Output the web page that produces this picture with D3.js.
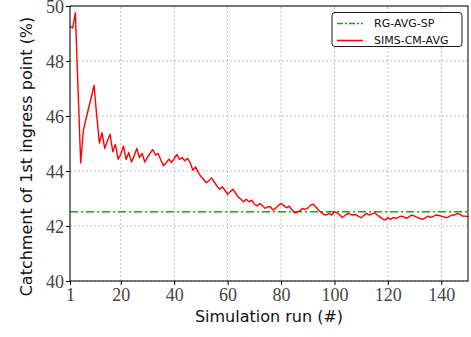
<!DOCTYPE html>
<html>
<head>
<meta charset="utf-8">
<script src="https://cdn.jsdelivr.net/npm/d3@7"></script>
<style>
  body { margin: 0; background: #fff; }
  svg { display: block; }
</style>
</head>
<body>
<svg id="chart"></svg>
<script>
// Series values
const simsCmAvg = [
  49.26, 49.2, 49.76, 47.0, 44.29, 45.48, 45.9, 46.3, 46.7, 47.12,
  46.0, 45.02, 45.39, 44.82, 45.1, 45.34, 44.70, 44.97, 44.43, 44.6,
  44.91, 44.42, 44.67, 44.33, 44.55, 44.82, 44.49, 44.64, 44.33, 44.5,
  44.65, 44.78, 44.58, 44.64, 44.4, 44.19, 44.3, 44.43, 44.31, 44.45,
  44.60, 44.42, 44.49, 44.37, 44.46, 44.3, 44.03, 44.15, 43.95, 43.8,
  43.7, 43.57, 43.65, 43.75, 43.6, 43.45, 43.34, 43.43, 43.3, 43.15,
  43.25, 43.34, 43.2, 43.05, 42.97, 42.88, 42.97, 42.88, 42.94, 42.8,
  42.73, 42.82, 42.75, 42.64, 42.7, 42.7, 42.58, 42.65, 42.75, 42.82,
  42.75, 42.66, 42.72, 42.6, 42.48, 42.5, 42.55, 42.64, 42.6, 42.65,
  42.75, 42.80, 42.7, 42.58, 42.5, 42.42, 42.40, 42.46, 42.40, 42.52,
  42.48, 42.4, 42.31, 42.38, 42.46, 42.42, 42.40, 42.42, 42.35, 42.30,
  42.38, 42.46, 42.40, 42.44, 42.48, 42.4, 42.33, 42.26, 42.22, 42.31,
  42.24, 42.31, 42.28, 42.32, 42.36, 42.33, 42.28, 42.34, 42.40, 42.36,
  42.31, 42.28, 42.24, 42.3, 42.36, 42.31, 42.35, 42.40, 42.38, 42.36,
  42.33, 42.30, 42.35, 42.40, 42.40, 42.46, 42.42, 42.36, 42.36, 42.34
];
const rgAvgSp = 42.52;
const runs = simsCmAvg.map((d, i) => i + 1);
const xTicks = [1, 20, 40, 60, 80, 100, 120, 140];
const yTicks = [40, 42, 44, 46, 48, 50];
const seriesNames = ["RG-AVG-SP", "SIMS-CM-AVG"];

const W = 471, H = 337;
const margin = { top: 6, right: 3, bottom: 56, left: 70 };

const svg = d3.select("#chart").attr("width", W).attr("height", H);

const x = d3.scaleLinear().domain([1, 150]).range([margin.left, W - margin.right]);
const y = d3.scaleLinear().domain([40, 50]).range([H - margin.bottom, margin.top]);

// grid
const grid = svg.append("g").attr("stroke", "#b5b5b5").attr("stroke-width", 0.9)
  .attr("stroke-dasharray", "2,2");
grid.selectAll(".gx").data(xTicks).join("line")
  .attr("x1", d => x(d)).attr("x2", d => x(d))
  .attr("y1", y(40)).attr("y2", y(50));
grid.selectAll(".gy").data(yTicks).join("line")
  .attr("x1", x(1)).attr("x2", x(150))
  .attr("y1", d => y(d)).attr("y2", d => y(d));

// reference line
const green = "#2a9a2a";
svg.append("line")
  .attr("x1", x(1)).attr("x2", x(150))
  .attr("y1", y(rgAvgSp)).attr("y2", y(rgAvgSp))
  .attr("stroke", green).attr("stroke-width", 1.5)
  .attr("stroke-dasharray", "8,3,2,3");

// main series
const line = d3.line().x((d, i) => x(runs[i])).y(d => y(d));
svg.append("path").datum(simsCmAvg)
  .attr("fill", "none").attr("stroke", "#ff0000").attr("stroke-width", 1.4)
  .attr("stroke-linejoin", "round")
  .attr("d", line);

// frame
svg.append("rect")
  .attr("x", x(1)).attr("y", y(50))
  .attr("width", x(150) - x(1)).attr("height", y(40) - y(50))
  .attr("fill", "none").attr("stroke", "#000").attr("stroke-width", 1);

// axes
const xAxis = svg.append("g")
  .attr("transform", `translate(0,${y(40)})`)
  .call(d3.axisBottom(x).tickValues(xTicks).tickSize(4).tickSizeOuter(0));
const yAxis = svg.append("g")
  .attr("transform", `translate(${x(1)},0)`)
  .call(d3.axisLeft(y).tickValues(yTicks).tickSize(4).tickSizeOuter(0));
[xAxis, yAxis].forEach(a => {
  a.select(".domain").remove();
  a.selectAll(".tick line").attr("stroke", "#000");
  a.selectAll(".tick text")
    .attr("font-family", "'Liberation Serif', 'DejaVu Serif', serif")
    .attr("font-size", 18).attr("fill", "#444");
});
xAxis.selectAll(".tick text").attr("dy", "0.75em").attr("y", 6);
yAxis.selectAll(".tick text").attr("x", -6).attr("dy", "0.34em");

// axis labels
svg.append("text")
  .attr("x", (x(1) + x(150)) / 2).attr("y", 322)
  .attr("text-anchor", "middle")
  .attr("font-family", "'DejaVu Sans', sans-serif").attr("font-size", 16)
  .attr("fill", "#111")
  .text("Simulation run (#)");
svg.append("text")
  .attr("transform", `translate(32,${(y(40) + y(50)) / 2 + 13}) rotate(-90)`)
  .attr("text-anchor", "middle")
  .attr("font-family", "'DejaVu Sans', sans-serif").attr("font-size", 16)
  .attr("fill", "#111")
  .text("Catchment of 1st ingress point (%)");

// legend
const lg = svg.append("g").attr("transform", "translate(332,12.5)");
lg.append("rect").attr("width", 130).attr("height", 34).attr("rx", 3)
  .attr("fill", "#fff").attr("stroke", "#000").attr("stroke-width", 0.9);
const styles = [
  { stroke: green, dash: "6,2,2,2" },
  { stroke: "#ff0000", dash: null }
];
seriesNames.forEach((name, i) => {
  const yy = 11 + i * 17;
  lg.append("line").attr("x1", 5).attr("x2", 31).attr("y1", yy).attr("y2", yy)
    .attr("stroke", styles[i].stroke).attr("stroke-width", 1.5)
    .attr("stroke-dasharray", styles[i].dash);
  lg.append("text").attr("x", 42).attr("y", yy).attr("dy", "0.35em")
    .attr("font-family", "'DejaVu Sans', sans-serif").attr("font-size", 11)
    .attr("fill", "#111")
    .text(name);
});
</script>
</body>
</html>
